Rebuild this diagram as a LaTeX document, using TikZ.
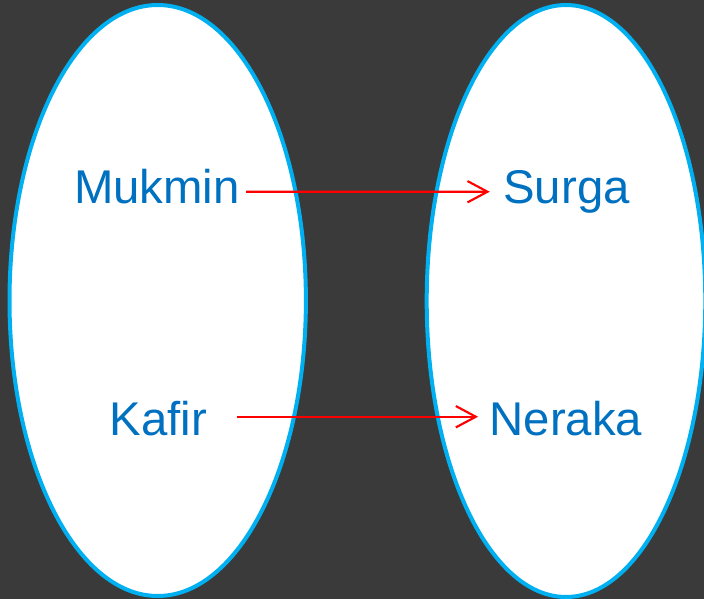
\documentclass[tikz,border=0pt]{standalone}
\usepackage{xcolor}
\usepackage{fontspec}
\setmainfont{Liberation Sans}
\usepackage{tikz}
\usetikzlibrary{arrows.meta}

\definecolor{bgdark}{RGB}{58,58,58}
\definecolor{ovalblue}{RGB}{0,176,240}
\definecolor{textblue}{RGB}{0,112,192}

\tikzset{
  oval/.style={draw=ovalblue, fill=white, line width=3pt},
  word/.style={anchor=base, inner sep=0pt, text=textblue, font=\fontsize{35.5}{40}\selectfont},
  maparrow/.style={draw=red, line width=1.6pt, -{Straight Barb[length=15pt,width=16pt,line width=1.6pt]}}
}

\begin{document}
\begin{tikzpicture}[x=0.75pt,y=0.75pt,yscale=-1,xscale=1]

    \fill[bgdark] (0,0) rectangle (704,599);
    \useasboundingbox (0,0) rectangle (704,599);

    % domain and codomain
    \draw[oval] (157.7,300.5) ellipse [x radius=148.2, y radius=295.5];
    \draw[oval] (566,301) ellipse [x radius=139.3, y radius=296];

    \node[word] (mukmin) at (157,203.3) {Mukmin};
    \node[word] (kafir) at (158.5,435) {Kafir};
    \node[word] (surga) at (566.5,204) {Surga};
    \node[word] (neraka) at (566,435) {Neraka};

    % yscale=-1 flips the shifts
    \draw[maparrow] ([xshift=4.5pt,yshift=-8.7pt]mukmin.base east) -- ([xshift=-10pt,yshift=-9.2pt]surga.base west);
    \draw[maparrow] ([xshift=22pt,yshift=-13.7pt]kafir.base east) -- ([xshift=-8.5pt,yshift=-13.7pt]neraka.base west);
\end{tikzpicture}
\end{document}
